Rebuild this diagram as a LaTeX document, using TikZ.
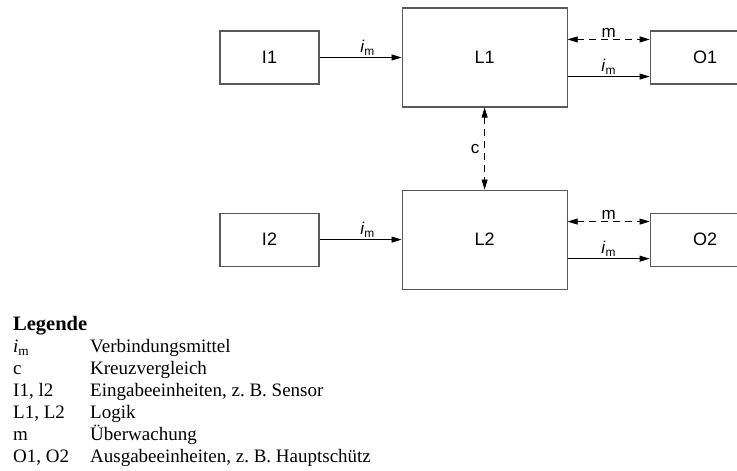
\documentclass[tikz,border=0pt]{standalone}
\usepackage{fontspec}
\setmainfont{Liberation Serif}
\setsansfont{Liberation Sans}
\usetikzlibrary{arrows.meta,positioning,calc}
\frenchspacing

\begin{document}
\begin{tikzpicture}[
  x=1pt, y=-1pt,
  blk/.style={draw=black!65, line width=1.1pt, minimum height=53pt,
              minimum width=99pt, font=\fontsize{18}{20}\sffamily,
              inner sep=0pt},
  lgc/.style={blk, minimum height=99pt, minimum width=165pt},
  outb/.style={blk, minimum width=110pt},
  ar/.style={-{Triangle[length=10pt,width=6pt]}, line width=0.7pt},
  dar/.style={{Triangle[length=10pt,width=6pt]}-{Triangle[length=10pt,width=6pt]},
              line width=0.7pt, dash pattern=on 7pt off 5pt},
  lbl/.style={font=\fontsize{17}{19}\sffamily, inner sep=2pt},
  node distance=82pt
]
  \clip (0,0) rectangle (737,471);

  % channel 1
  \node[blk] (I1) at (269.5,57.5) {I1};
  \node[lgc, right=of I1] (L1) {L1};
  \node[outb, right=of L1] (O1) {O1};
  % channel 2
  \node[lgc, below=of L1] (L2) {L2};
  \node[blk, left=of L2] (I2) {I2};
  \node[outb, right=of L2] (O2) {O2};

  \coordinate (m1) at ([yshift=-9pt]O1.north west);
  \coordinate (o1) at ([yshift=8pt]O1.south west);
  \coordinate (m2) at ([yshift=-9pt]O2.north west);
  \coordinate (o2) at ([yshift=8pt]O2.south west);

  \draw[ar] (I1.east) -- node[lbl, above, xshift=7pt] {\textit{i}\textsubscript{m}} (I1.east -| L1.west);
  \draw[ar] (I2.east) -- node[lbl, above, xshift=7pt] {\textit{i}\textsubscript{m}} (I2.east -| L2.west);

  \draw[dar] (m1 -| L1.east) -- node[lbl, above] {m} (m1);
  \draw[ar] (o1 -| L1.east) -- node[lbl, above] {\textit{i}\textsubscript{m}} (o1);
  \draw[dar] (m2 -| L2.east) -- node[lbl, above] {m} (m2);
  \draw[ar] (o2 -| L2.east) -- node[lbl, above] {\textit{i}\textsubscript{m}} (o2);

  \draw[dar] (L1.south) -- node[lbl, left, xshift=-3pt] {c} (L2.north);

  % legend
  \node[anchor=north west, inner sep=0pt, font=\fontsize{20.5}{22}\selectfont\bfseries] (leg) at (13,316) {Legende};
  \node[anchor=north west, inner sep=0pt, font=\fontsize{19}{22}\selectfont] (legtab) at ([yshift=-2pt]leg.south west)
    {\begin{tabular}{@{}p{77pt}@{}l@{}}
      \textit{i}\textsubscript{m} & Verbindungsmittel\\
      c & Kreuzvergleich\\
      I1, l2 & Eingabeeinheiten, z. B. Sensor\\
      L1, L2 & Logik\\
      m & Überwachung\\
      O1, O2 & Ausgabeeinheiten, z. B. Hauptschütz
    \end{tabular}};
\end{tikzpicture}
\end{document}
